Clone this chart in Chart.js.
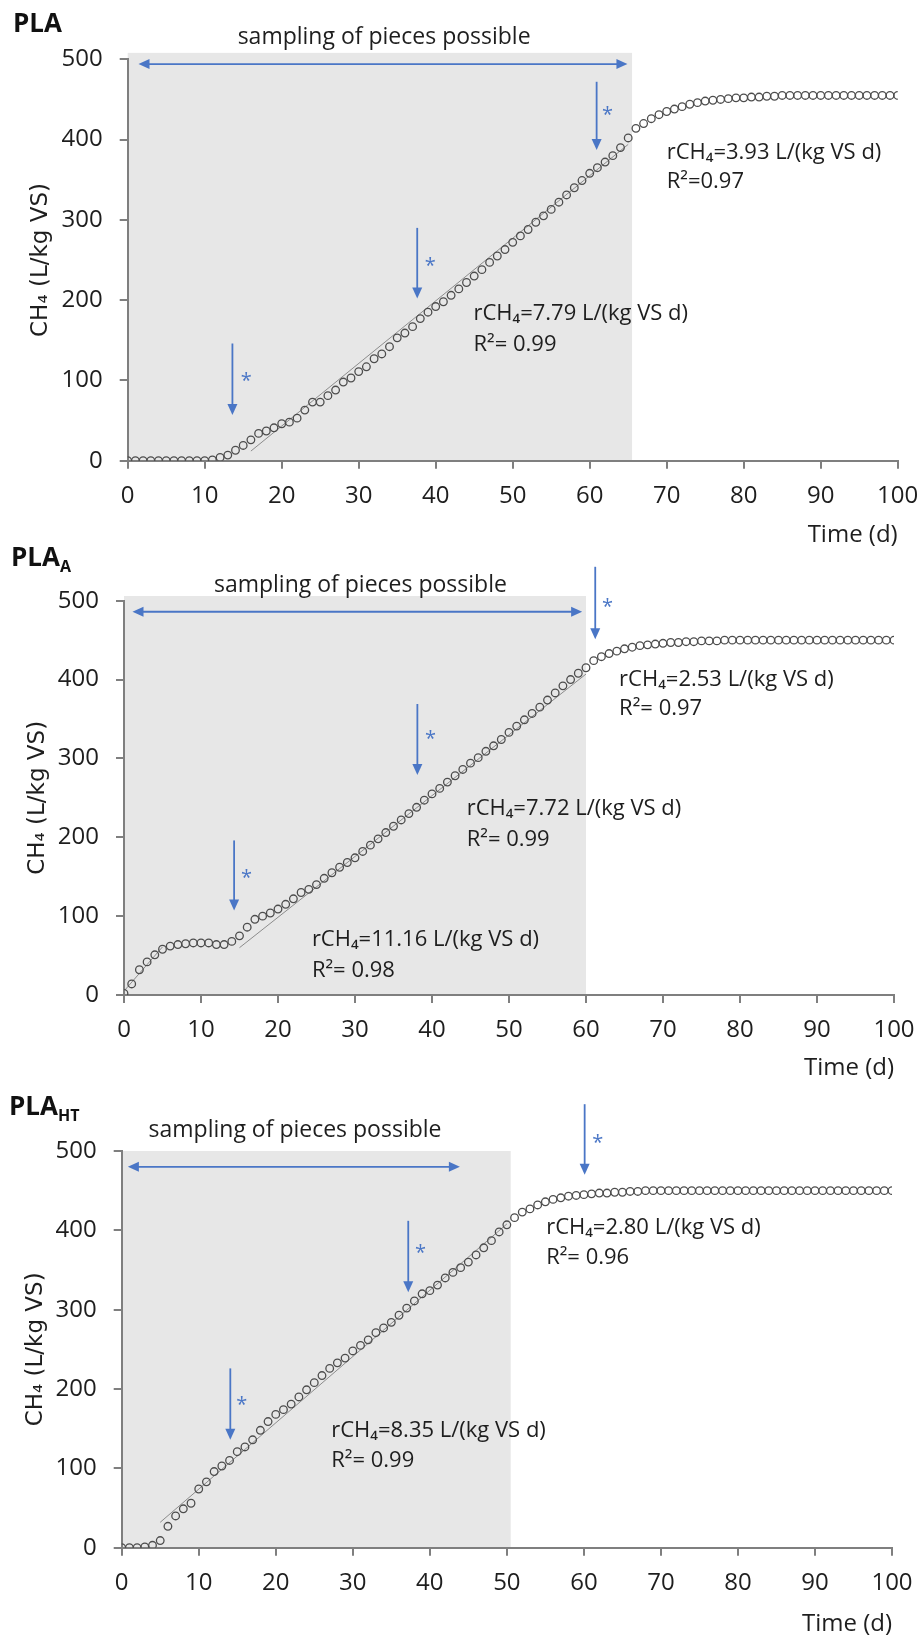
<!DOCTYPE html>
<html><head><meta charset="utf-8">
<script src="https://cdn.jsdelivr.net/npm/chart.js@4.4.1/dist/chart.umd.min.js"></script>
<style>
html,body{margin:0;padding:0;background:#fff;width:922px;height:1639px;overflow:hidden;}
canvas{position:absolute;left:0;}
.ttl{position:absolute;font-family:'Open Sans';font-weight:700;font-size:26px;line-height:26px;color:#111;white-space:nowrap;}
.ttl span{font-size:16px;position:relative;top:6px;}
</style></head><body>
<canvas id="c1" width="922" height="550" style="top:0px"></canvas>
<canvas id="c2" width="922" height="536" style="top:545px"></canvas>
<canvas id="c3" width="922" height="558" style="top:1081px"></canvas>
<div class="ttl" style="left:13px;top:9px">PLA</div>
<div class="ttl" style="left:11px;top:543px">PLA<span>A</span></div>
<div class="ttl" style="left:9px;top:1092px">PLA<span>HT</span></div>
<script>
// ---- data ----
const days = [0,1,2,3,4,5,6,7,8,9,10,11,12,13,14,15,16,17,18,19,20,21,22,23,24,25,26,27,28,29,30,31,32,33,34,35,36,37,38,39,40,41,42,43,44,45,46,47,48,49,50,51,52,53,54,55,56,57,58,59,60,61,62,63,64,65,66,67,68,69,70,71,72,73,74,75,76,77,78,79,80,81,82,83,84,85,86,87,88,89,90,91,92,93,94,95,96,97,98,99,100];
const plaValues = [0,0,0,0,0,0,0,0,0,0,0,1,4,7,13,19,26,34,37,41,46,48,53,63,73,73,81,88,98,103,111,117,127,133,142,153,159,167,177,185,192,198,206,214,222,230,238,247,255,263,272,280,288,297,305,313,322,331,340,349,358,365,372,380,390,402,414,420,426,431,435,438,441,444,446,448,449,450,451,452,452,453,453,454,454,455,455,455,455,455,455,455,455,455,455,455,455,455,455,455,455];
const plaAValues = [2,14,32,42,51,58,62,64,65,66,66,66,64,64,68,75,86,96,100,104,109,115,122,130,134,140,148,155,162,168,174,182,190,198,206,214,222,230,238,247,255,262,270,278,286,294,301,309,316,324,333,341,349,357,365,374,383,392,400,408,415,424,429,433,436,439,441,443,444,445,446,447,447,448,448,449,449,449,450,450,450,450,450,450,450,450,450,450,450,450,450,450,450,450,450,450,450,450,450,450,450];
const plaHTValues = [0,0,0,1,3,9,27,40,49,56,74,83,96,103,110,121,127,136,148,159,168,174,181,190,199,208,217,226,233,239,248,255,262,271,277,284,293,302,311,320,324,331,340,347,353,360,369,378,387,398,407,416,423,427,432,436,439,441,443,444,445,446,447,447,448,448,449,449,450,450,450,450,450,450,450,450,450,450,450,450,450,450,450,450,450,450,450,450,450,450,450,450,450,450,450,450,450,450,450,450,450];
// linear fits (start/end)
const plaFitX = [16, 65], plaFitY = [12, 394];
const plaAFit1X = [0, 5], plaAFit1Y = [5, 61];
const plaAFit2X = [15, 60], plaAFit2Y = [60, 407];
const plaHTFitX = [5, 50], plaHTFitY = [32, 408];
const xTicks = [0,10,20,30,40,50,60,70,80,90,100];
const yTicks = [0,100,200,300,400,500];

Chart.defaults.font.family = "'Open Sans', sans-serif";

const BLUE = '#4a76c6';
const TXT = '#1e1e1e';
const overlay = {
  id: 'overlay',
  beforeDraw(chart, args, o) {
    const {ctx, scales: {x, y}} = chart;
    ctx.save();
    ctx.fillStyle = '#e7e7e7';
    const x0 = x.getPixelForValue(0), x1 = x.getPixelForValue(o.box[0]);
    const y0 = y.getPixelForValue(o.box[1]), yb = y.getPixelForValue(0);
    ctx.fillRect(x0, y0, x1 - x0, yb - y0);
    ctx.restore();
  },
  afterDatasetsDraw(chart, args, o) {
    const {ctx, scales: {x, y}} = chart;
    const head = (tx, ty, dx, dy) => {
      const L = 11, W = 5;
      ctx.beginPath();
      ctx.moveTo(tx, ty);
      ctx.lineTo(tx - dx * L - dy * W, ty - dy * L + dx * W);
      ctx.lineTo(tx - dx * L + dy * W, ty - dy * L - dx * W);
      ctx.closePath();
      ctx.fill();
    };
    ctx.save();
    ctx.strokeStyle = BLUE; ctx.fillStyle = BLUE; ctx.lineWidth = 1.8;
    const h = o.hArrow;
    const hx1 = x.getPixelForValue(h[0]), hx2 = x.getPixelForValue(h[1]), hy = y.getPixelForValue(h[2]);
    ctx.beginPath(); ctx.moveTo(hx1 + 8, hy); ctx.lineTo(hx2 - 8, hy); ctx.stroke();
    head(hx1, hy, -1, 0); head(hx2, hy, 1, 0);
    o.arrows.forEach(a => {
      const px = x.getPixelForValue(a[0]), p1 = y.getPixelForValue(a[1]), p2 = y.getPixelForValue(a[2]);
      ctx.beginPath(); ctx.moveTo(px, p1); ctx.lineTo(px, p2 - 8); ctx.stroke();
      head(px, p2, 0, 1);
    });
    ctx.font = "20px 'Open Sans'"; ctx.textAlign = 'center'; ctx.textBaseline = 'alphabetic';
    o.stars.forEach(s => {
      ctx.fillText('*', x.getPixelForValue(s[0]), y.getPixelForValue(s[1]) + 11);
    });
    ctx.fillStyle = TXT; ctx.textBaseline = 'middle';
    o.texts.forEach(t => {
      ctx.font = "500 " + t[4] + "px 'Open Sans'";
      ctx.textAlign = t[3];
      ctx.fillText(t[0], x.getPixelForValue(t[1]), y.getPixelForValue(t[2]));
    });
    ctx.restore();
  }
};

function build(id, P) {
  const pts = days.map((d, i) => ({x: d, y: P.values[i]}));
  const fitSets = P.fits.map(f => ({
    data: f[0].map((xv, i) => ({x: xv, y: f[1][i]})),
    showLine: true, borderColor: '#8c8c8c', borderWidth: 1, pointRadius: 0, order: 2
  }));
  return new Chart(document.getElementById(id), {
    type: 'scatter',
    data: {datasets: [
      {data: pts, showLine: false, pointRadius: 3.8, pointBorderWidth: 1.3,
       pointBorderColor: '#4d4d4d', pointBackgroundColor: 'rgba(0,0,0,0)', order: 1},
      ...fitSets
    ]},
    options: {
      responsive: false, animation: false, devicePixelRatio: 1,
      layout: {padding: {left: 0, right: P.padR, top: P.padT, bottom: 0}},
      plugins: {legend: {display: false}, tooltip: {enabled: false}, overlay: P.overlay},
      scales: {
        x: {
          type: 'linear', min: 0, max: 100,
          afterBuildTicks: s => { s.ticks = xTicks.map(v => ({value: v})); },
          afterFit: s => { s.height = P.xH; },
          ticks: {padding: 3, color: TXT, font: {size: 24, weight: '500', lineHeight: P.xLH}, maxRotation: 0, autoSkip: false},
          grid: {drawOnChartArea: false, tickLength: 8, color: '#7f7f7f', lineWidth: 2},
          border: {color: '#7f7f7f', width: 2},
          title: {display: true, text: 'Time (d)', align: 'end', color: TXT,
                  font: {size: 24, weight: '500', lineHeight: 1}, padding: {top: 0, bottom: P.tPadB}}
        },
        y: {
          type: 'linear', min: 0, max: 500,
          afterBuildTicks: s => { s.ticks = yTicks.map(v => ({value: v})); },
          afterFit: s => { s.width = P.yW; },
          ticks: {padding: 17, color: TXT, font: {size: 24, weight: '500'}},
          grid: {drawOnChartArea: false, tickLength: 8, color: '#7f7f7f', lineWidth: 2},
          border: {color: '#7f7f7f', width: 2},
          title: {display: true, text: 'CH₄ (L/kg VS)', color: TXT,
                  font: {family: "'DejaVu Sans'", size: 23}, padding: {top: P.yTPad, bottom: 0}}
        }
      }
    },
    plugins: [overlay]
  });
}

build('c1', {
  values: plaValues, fits: [[plaFitX, plaFitY]],
  padR: 24.3, padT: 59.3, xH: 89.3, yW: 127.7, yTPad: 27.5, tPadB: 3, xLH: 2.0,
  overlay: {
    box: [65.5, 508], hArrow: [1.4, 64.9, 494],
    arrows: [[13.6, 146, 57], [37.6, 290, 202], [60.9, 472, 387]],
    stars: [[15.4, 105], [39.3, 249], [62.3, 437]],
    texts: [
      ['sampling of pieces possible', 33.3, 527, 'center', 23],
      ['rCH₄=3.93 L/(kg VS d)', 70.0, 383, 'left', 22],
      ['R²=0.97', 70.0, 348, 'left', 22],
      ['rCH₄=7.79 L/(kg VS d)', 44.9, 183, 'left', 22],
      ['R²= 0.99', 44.9, 145, 'left', 22]
    ]
  }
});
build('c2', {
  values: plaAValues, fits: [[plaAFit1X, plaAFit1Y], [plaAFit2X, plaAFit2Y]],
  padR: 28, padT: 55.7, xH: 86, yW: 124, yTPad: 23.8, tPadB: 1, xLH: 2.0,
  overlay: {
    box: [60.0, 506], hArrow: [1.1, 59.5, 486],
    arrows: [[14.3, 196, 107], [38.1, 369, 279], [61.2, 543, 451]],
    stars: [[15.9, 155], [39.8, 331], [62.8, 498]],
    texts: [
      ['sampling of pieces possible', 30.7, 519, 'center', 23],
      ['rCH₄=2.53 L/(kg VS d)', 64.3, 400, 'left', 22],
      ['R²= 0.97', 64.3, 363, 'left', 22],
      ['rCH₄=7.72 L/(kg VS d)', 44.5, 236, 'left', 22],
      ['R²= 0.99', 44.5, 197, 'left', 22],
      ['rCH₄=11.16 L/(kg VS d)', 24.4, 70, 'left', 22],
      ['R²= 0.98', 24.4, 31, 'left', 22]
    ]
  }
});
build('c3', {
  values: plaHTValues, fits: [[plaHTFitX, plaHTFitY]],
  padR: 30, padT: 70, xH: 91.3, yW: 121.7, yTPad: 22.3, tPadB: 3.3, xLH: 2.05,
  overlay: {
    box: [50.5, 500], hArrow: [0.8, 43.9, 480],
    arrows: [[14.1, 226, 136], [37.2, 412, 322], [60.1, 559, 470]],
    stars: [[15.6, 186], [38.8, 378], [61.8, 517]],
    texts: [
      ['sampling of pieces possible', 22.5, 526, 'center', 23],
      ['rCH₄=2.80 L/(kg VS d)', 55.1, 403, 'left', 22],
      ['R²= 0.96', 55.1, 365, 'left', 22],
      ['rCH₄=8.35 L/(kg VS d)', 27.2, 147, 'left', 22],
      ['R²= 0.99', 27.2, 109, 'left', 22]
    ]
  }
});
</script>
</body></html>
